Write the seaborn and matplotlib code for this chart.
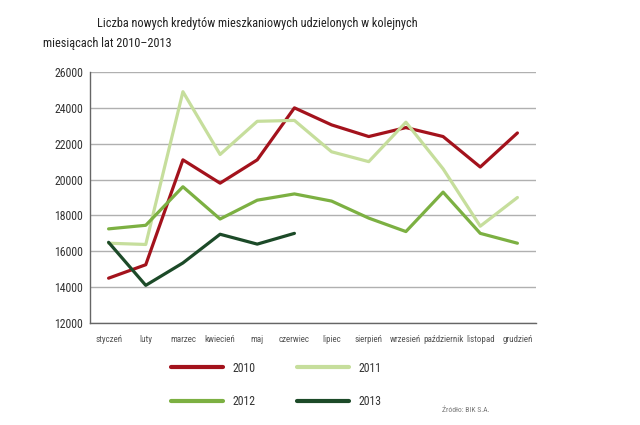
import matplotlib
matplotlib.use("Agg")
import matplotlib.pyplot as plt
from matplotlib.lines import Line2D
from matplotlib import font_manager
import seaborn as sns
import pandas as pd
import numpy as np

months = ["styczeń", "luty", "marzec", "kwiecień", "maj", "czerwiec", "lipiec",
          "sierpień", "wrzesień", "październik", "listopad", "grudzień"]
y2010 = [14500, 15250, 21100, 19800, 21100, 24000, 23050, 22400, 22900, 22400, 20700, 22600]
y2011 = [16450, 16380, 24900, 21400, 23250, 23300, 21550, 21000, 23200, 20600, 17400, 19000]
y2012 = [17250, 17450, 19600, 17800, 18850, 19200, 18800, 17850, 17100, 19300, 17000, 16450]
y2013 = [16500, 14100, 15350, 16950, 16400, 17000]
years = ["2010", "2011", "2012", "2013"]
yticks = [12000, 14000, 16000, 18000, 20000, 22000, 24000, 26000]
colors = {"2010": "#a3121c", "2011": "#c6de9c", "2012": "#7cb042", "2013": "#1c4a28"}

rows = []
for yr, vals in zip(years, [y2010, y2011, y2012, y2013]):
    for m, v in zip(months, vals):
        rows.append({"miesiac": m, "wartosc": v, "rok": yr})
df = pd.DataFrame(rows)

sns.set_style("white")
installed = {f.name for f in font_manager.fontManager.ttflist}
cond = [n for n in ["Roboto Condensed", "Liberation Sans Narrow", "DejaVu Sans Condensed"] if n in installed]
font = cond + ["Liberation Sans", "DejaVu Sans"]
plt.rcParams["font.family"] = font
narrow = len(cond) > 0

fig = plt.figure(figsize=(6.4, 4.25), dpi=100)
ax = fig.add_axes([90/640, 1-323/425, (536-90)/640, (323-72)/425])

sns.lineplot(data=df, x="miesiac", y="wartosc", hue="rok", palette=colors,
             linewidth=2.3, ax=ax, legend=False, sort=False)

ax.set_xlim(-0.5, 11.5)
ax.set_ylim(12000, 26000)
ax.set_yticks(yticks)
ax.set_yticklabels([str(t) for t in yticks], fontsize=8.5, color="#333333")
ax.set_xticks(range(12))
ax.set_xticklabels(months, fontsize=6.5 if narrow else 5.6, color="#555555")
ax.set_xticks(np.arange(0.5, 12, 1), minor=True)
ax.tick_params(axis="x", which="major", length=0, pad=9)
ax.tick_params(axis="x", which="minor", direction="in", length=7, width=1, color="#666666")
ax.tick_params(axis="y", length=0, pad=5)
ax.set_xlabel("")
ax.set_ylabel("")
ax.grid(axis="y", color="#b0b0b0", linewidth=1)
ax.set_axisbelow(True)
for s in ["top", "right"]:
    ax.spines[s].set_visible(False)
for s in ["left", "bottom"]:
    ax.spines[s].set_color("#666666")
    ax.spines[s].set_linewidth(1)

tsize = 8.8 if narrow else 8.0
fig.text(97/640, 1-24/425, "Liczba nowych kredytów mieszkaniowych udzielonych w kolejnych",
         fontsize=tsize, color="#222222", va="center", ha="left")
fig.text(43/640, 1-44/425, "miesiącach lat 2010–2013",
         fontsize=tsize, color="#222222", va="center", ha="left")

order = ["2010", "2012", "2011", "2013"]
handles = [Line2D([0], [0], color=colors[y], linewidth=3) for y in order]
fig.legend(handles, order, ncol=2, loc="upper left",
           bbox_to_anchor=(160/640, 1-351/425), frameon=False,
           handlelength=4.4, fontsize=8.5, labelspacing=1.7, columnspacing=3.5,
           handletextpad=0.85, labelcolor="#333333")

fig.text(490/640, 1-410/425, "Źródło: BIK S.A.", fontsize=5.5, color="#777777",
         ha="right", va="center")

fig.savefig("out.png", dpi=100)
